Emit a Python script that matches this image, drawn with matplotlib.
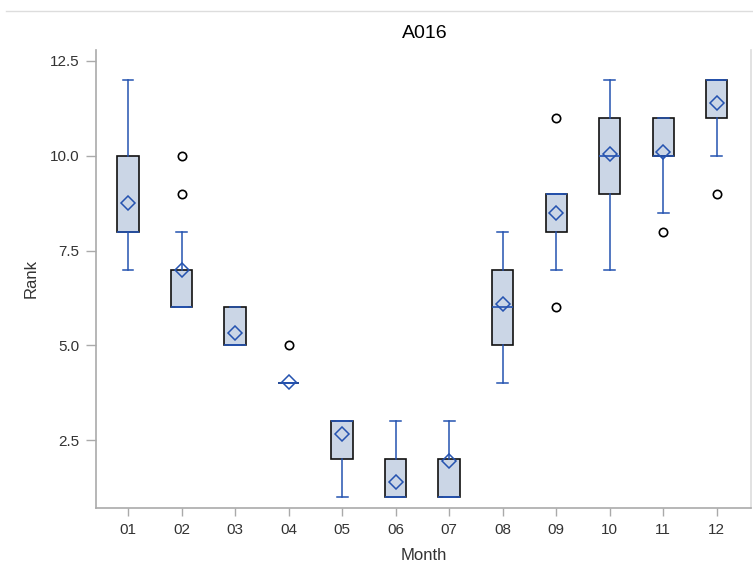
import numpy as np
import matplotlib.pyplot as plt
from matplotlib.lines import Line2D

plt.rcParams['font.family'] = ['Liberation Sans Narrow', 'Liberation Sans', 'DejaVu Sans']

# Monatliche Boxplot-Statistiken
months = ['01', '02', '03', '04', '05', '06', '07', '08', '09', '10', '11', '12']
q1 = [8, 6, 5, 4, 2, 1, 1, 5, 8, 9, 10, 11]
med = [8, 6, 5, 4, 3, 1, 1, 6, 9, 10, 10, 12]
q3 = [10, 7, 6, 4, 3, 2, 2, 7, 9, 11, 11, 12]
whislo = [7, 6, 5, 4, 1, 1, 1, 4, 7, 7, 8.5, 10]
whishi = [12, 8, 6, 4, 3, 3, 3, 8, 9, 12, 11, 12]
means = [8.75, 7.0, 5.33, 4.03, 2.67, 1.4, 1.95, 6.1, 8.5, 10.05, 10.1, 11.4]
outliers = [[], [9, 10], [], [5], [], [], [], [], [6, 11], [], [8], [9]]

blue = '#2553b0'
fill = '#cbd6e6'

stats = []
for i in range(len(months)):
    stats.append(dict(q1=q1[i], med=med[i], q3=q3[i], whislo=whislo[i],
                      whishi=whishi[i], mean=means[i], fliers=outliers[i]))

fig = plt.figure(figsize=(7.53, 5.70), dpi=100)
ax = fig.add_axes([96 / 753, 62 / 570, 655 / 753, 458 / 570])

ax.bxp(stats, positions=range(len(months)), widths=0.4, showmeans=True,
       patch_artist=True, manage_ticks=False,
       boxprops=dict(facecolor=fill, edgecolor='#111111', linewidth=1.2),
       medianprops=dict(color=blue, linewidth=1.2),
       whiskerprops=dict(color=blue, linewidth=1.1),
       capprops=dict(color=blue, linewidth=1.1),
       capwidths=0.2,
       meanprops=dict(marker='D', markerfacecolor='none', markeredgecolor=blue,
                      markersize=7, markeredgewidth=1.1),
       flierprops=dict(marker='o', markerfacecolor='none', markeredgecolor='black',
                       markersize=6, markeredgewidth=1.2))

ax.set_xlim(-0.6, 11.64)
ax.set_ylim(0.71, 12.79)
ax.set_xticks(range(len(months)))
ax.set_xticklabels(months)
ax.set_yticks([2.5, 5.0, 7.5, 10.0, 12.5])
ax.set_yticklabels(['2.5', '5.0', '7.5', '10.0', '12.5'])
ax.tick_params(colors='#333333', labelsize=11, length=6, width=1, color='#aaaaaa', pad=5)
ax.tick_params(axis='y', length=7)

ax.spines['top'].set_visible(False)
for s in ['left', 'bottom', 'right']:
    ax.spines[s].set_color('#aaaaaa')
    ax.spines[s].set_linewidth(1.2)
ax.spines['right'].set_color('#dddddd')

ax.set_xlabel('Month', fontsize=12, color='#333333', labelpad=8)
ax.set_ylabel('Rank', fontsize=12, color='#333333', labelpad=8)
fig.text(425 / 753, 1 - 33 / 570, 'A016', ha='center', va='center', fontsize=14, color='black')

fig.add_artist(Line2D([6 / 753, 1], [1 - 11 / 570, 1 - 11 / 570], color='#dddddd', linewidth=1))

fig.savefig('out.png', dpi=100)
